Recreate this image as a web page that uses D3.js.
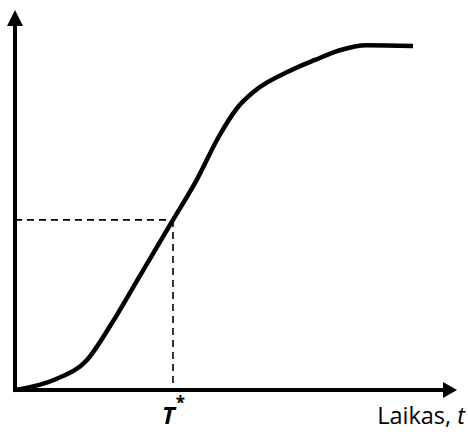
<!DOCTYPE html>
<html><head><meta charset="utf-8">
<script src="https://cdn.jsdelivr.net/npm/d3@7"></script>
<style>html,body{margin:0;padding:0;background:#fff}svg{display:block}</style>
</head><body>
<svg id="c" width="468" height="432"></svg>
<script>
// Curve data (time t, value) in arbitrary units
const tValues = [0, 10, 18, 24, 31.25, 39.5, 45.5, 51, 55.5, 60, 68.75, 75, 81, 88, 99.5];
const yValues = [0, 3, 8.6, 18.7, 32.7, 48.6, 60.2, 72.5, 80.5, 85.5, 91.2, 94.3, 97, 98.5, 98.3];
const tStar = 39.5;
const xAxisLabel = ["Laikas, ", "t"];
const tStarLabel = ["T", "*"];

const svg = d3.select("#c");
const x = d3.scaleLinear().domain([0, 100]).range([15, 415]);
const y = d3.scaleLinear().domain([0, 100]).range([390, 40]);

const pts = tValues.map((t, i) => [t, yValues[i]]);
const yStar = yValues[tValues.indexOf(tStar)];

// dashed guides
svg.append("line").attr("x1", x(0)).attr("x2", x(tStar)).attr("y1", y(yStar)).attr("y2", y(yStar))
  .attr("stroke", "#000").attr("stroke-width", 1.6).attr("stroke-dasharray", "7,5");
svg.append("line").attr("x1", x(tStar)).attr("x2", x(tStar)).attr("y1", y(yStar)).attr("y2", y(0))
  .attr("stroke", "#000").attr("stroke-width", 1.6).attr("stroke-dasharray", "7,5");

// curve
const line = d3.line().x(d => x(d[0])).y(d => y(d[1])).curve(d3.curveMonotoneX);
svg.append("path").attr("d", line(pts)).attr("fill", "none").attr("stroke", "#000")
  .attr("stroke-width", 4.5).attr("stroke-linejoin", "round");

// axes with arrows
const x0 = x(0), y0 = y(0);
svg.append("line").attr("x1", x0 - 2).attr("x2", 445).attr("y1", y0).attr("y2", y0)
  .attr("stroke", "#000").attr("stroke-width", 4);
svg.append("path").attr("d", `M443,382 L457,${y0} L443,398 Z`).attr("fill", "#000");
svg.append("line").attr("x1", x0).attr("x2", x0).attr("y1", y0 + 2).attr("y2", 24)
  .attr("stroke", "#000").attr("stroke-width", 4);
svg.append("path").attr("d", `M7,26 L${x0},10 L23,26 Z`).attr("fill", "#000");

// labels
const tl = svg.append("text").attr("x", x(tStar) - 11).attr("y", 424)
  .attr("font-family", "Open Sans, sans-serif").attr("font-size", 24).attr("fill", "#000");
tl.append("tspan").attr("font-weight", "bold").attr("font-style", "italic").text(tStarLabel[0]);
tl.append("tspan").attr("font-weight", "bold").attr("font-size", 17).attr("dy", -15).attr("dx", 1).text(tStarLabel[1]);

const xl = svg.append("text").attr("x", 465).attr("y", 424).attr("text-anchor", "end")
  .attr("font-family", "Open Sans, sans-serif").attr("font-size", 23.5).attr("fill", "#000");
xl.append("tspan").text(xAxisLabel[0]);
xl.append("tspan").attr("font-style", "italic").text(xAxisLabel[1]);
</script>
</body></html>
